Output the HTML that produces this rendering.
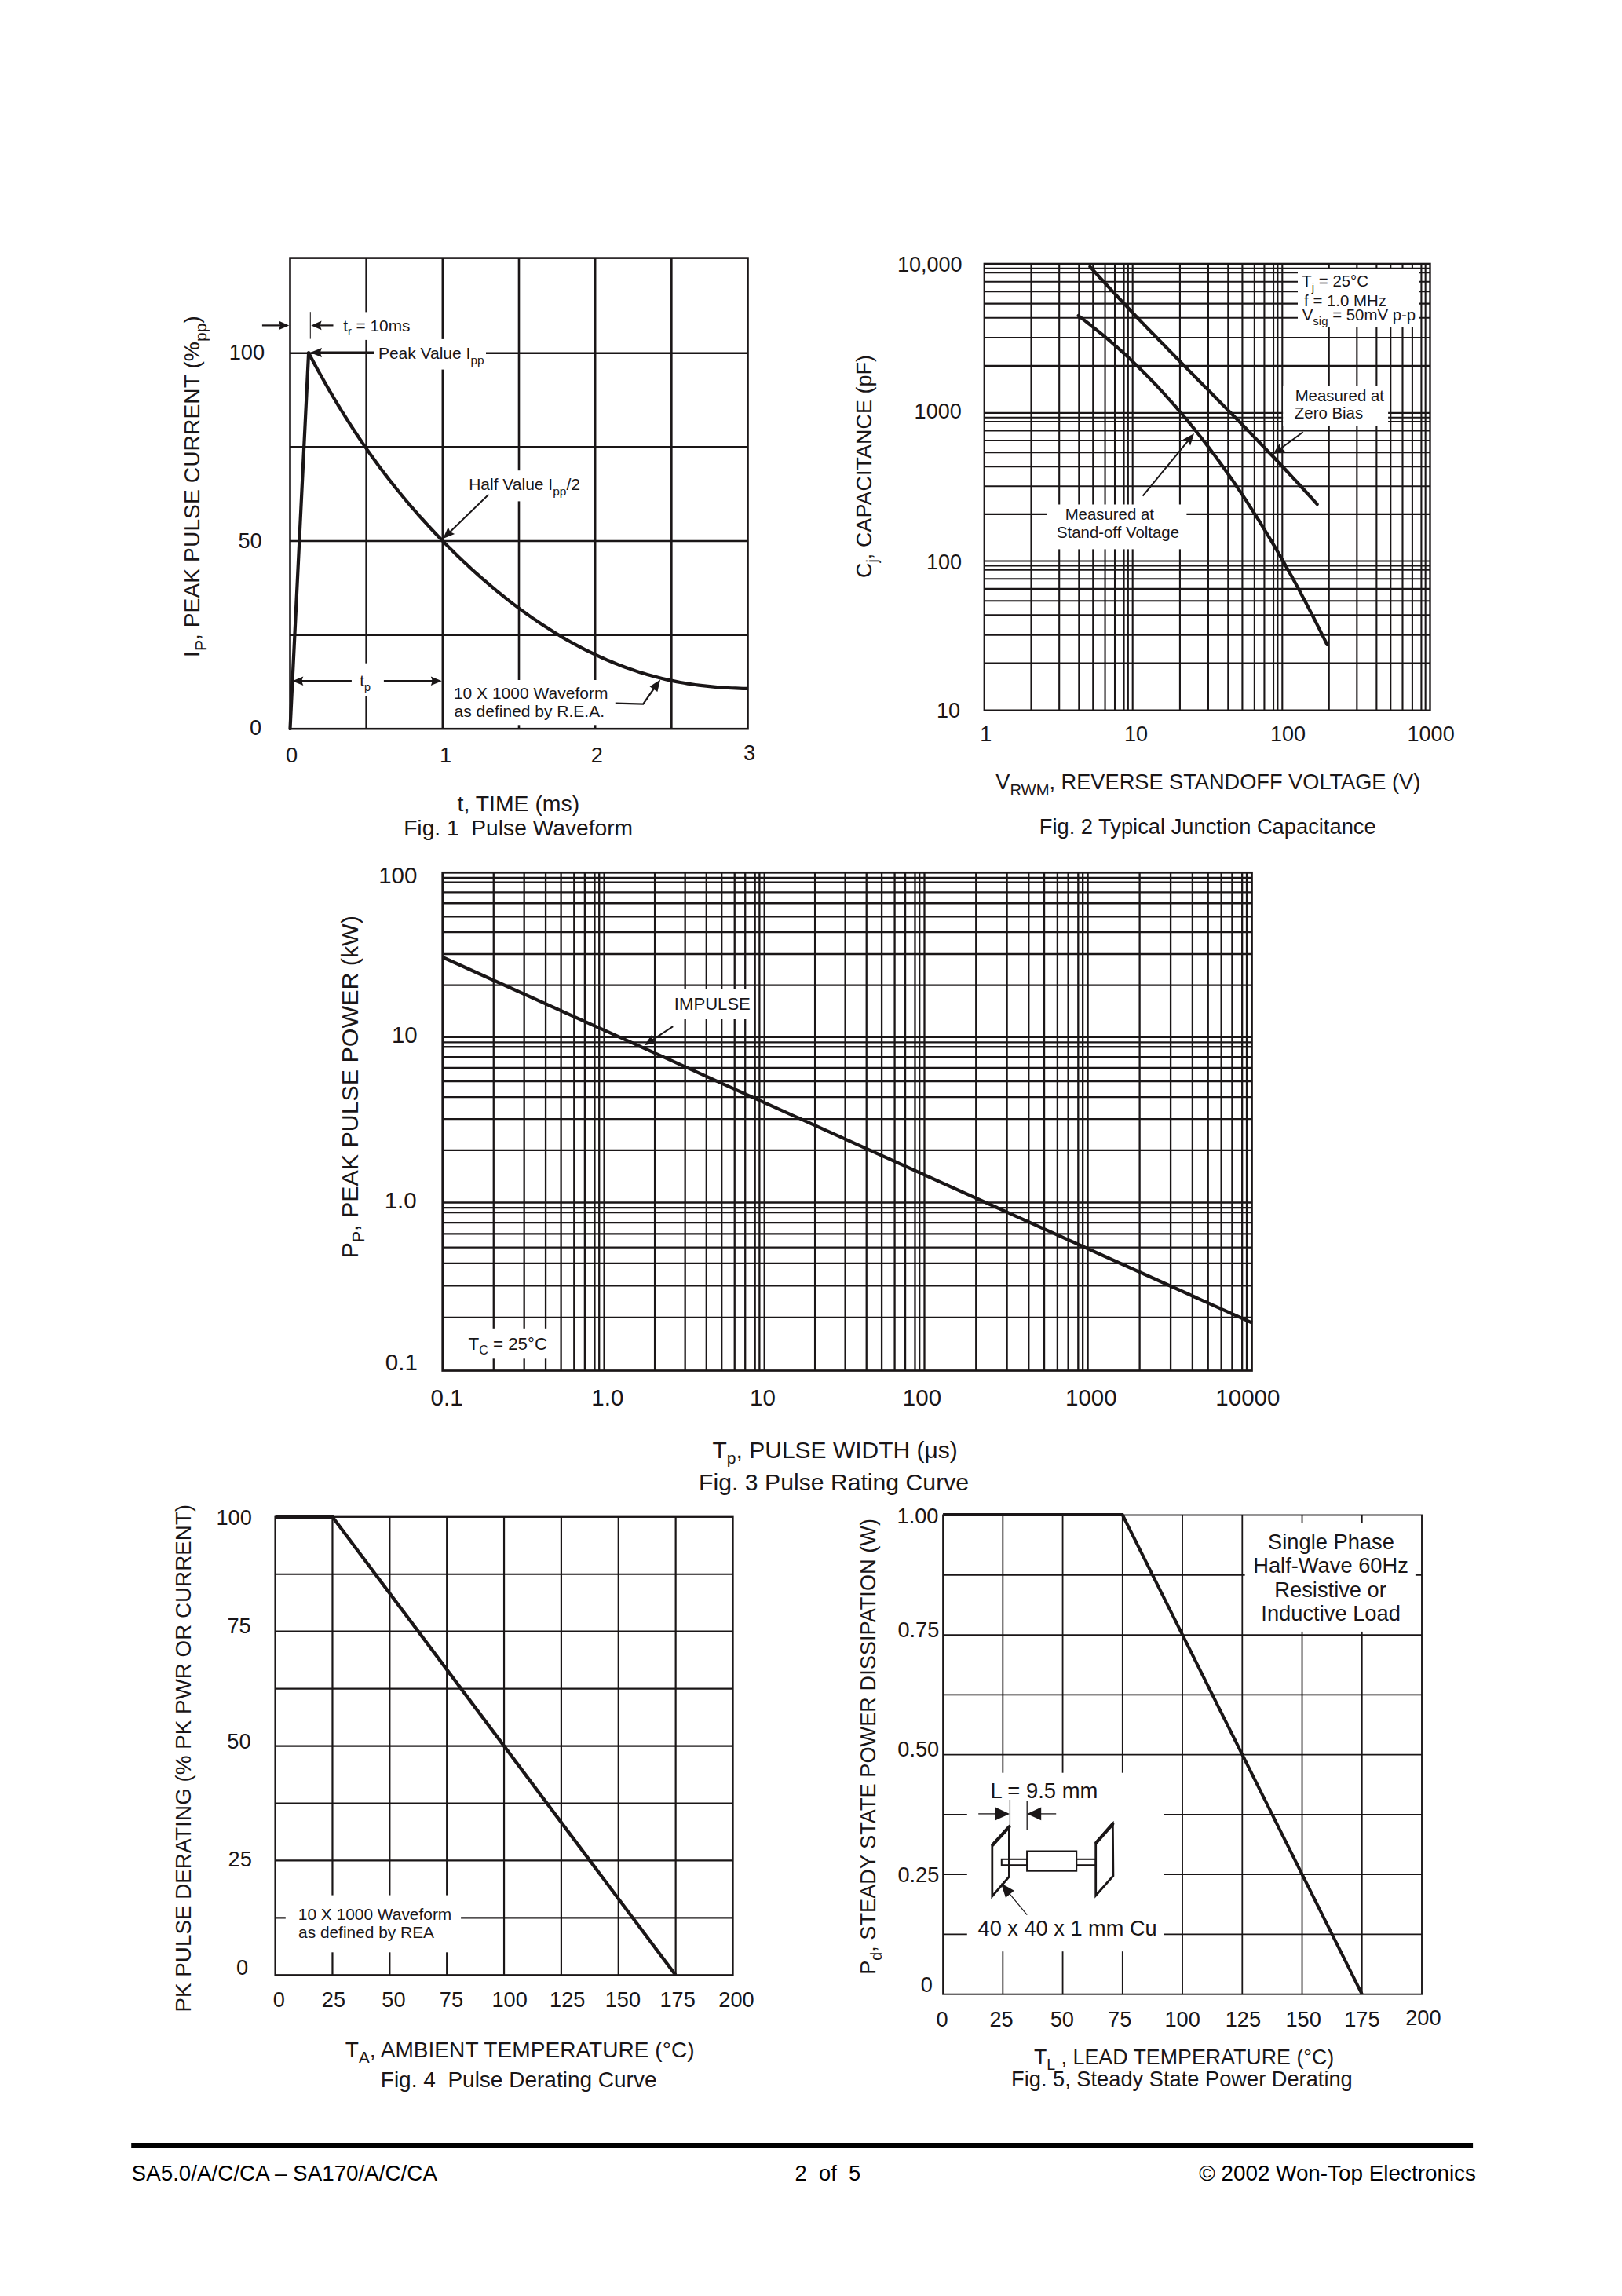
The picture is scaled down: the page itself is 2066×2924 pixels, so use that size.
<!DOCTYPE html>
<html><head><meta charset="utf-8"><style>
html,body{margin:0;padding:0;background:#fff;overflow:hidden;width:2066px;height:2924px;}
svg{display:block;}
text{font-family:"Liberation Sans",sans-serif;fill:#1a1617;stroke:none;white-space:pre;}
.ft text{fill:#000;}
</style></head><body>
<svg width="2066" height="2924" viewBox="0 0 2066 2924" stroke="#1a1617">
<line x1="466.67" y1="328.60" x2="466.67" y2="928.20" stroke-width="2.6" stroke-linecap="butt"/>
<line x1="563.83" y1="328.60" x2="563.83" y2="928.20" stroke-width="2.6" stroke-linecap="butt"/>
<line x1="661.00" y1="328.60" x2="661.00" y2="928.20" stroke-width="2.6" stroke-linecap="butt"/>
<line x1="758.17" y1="328.60" x2="758.17" y2="928.20" stroke-width="2.6" stroke-linecap="butt"/>
<line x1="855.33" y1="328.60" x2="855.33" y2="928.20" stroke-width="2.6" stroke-linecap="butt"/>
<line x1="369.50" y1="449.80" x2="952.50" y2="449.80" stroke-width="2.6" stroke-linecap="butt"/>
<line x1="369.50" y1="569.40" x2="952.50" y2="569.40" stroke-width="2.6" stroke-linecap="butt"/>
<line x1="369.50" y1="689.00" x2="952.50" y2="689.00" stroke-width="2.6" stroke-linecap="butt"/>
<line x1="369.50" y1="808.60" x2="952.50" y2="808.60" stroke-width="2.6" stroke-linecap="butt"/>
<rect x="369.50" y="328.60" width="583.00" height="599.60" fill="none" stroke-width="2.6"/>
<rect x="430.00" y="397.40" width="100.00" height="35.50" fill="#fff" stroke="none"/>
<rect x="476.70" y="431.90" width="142.30" height="38.70" fill="#fff" stroke="none"/>
<rect x="590.00" y="599.20" width="155.00" height="39.20" fill="#fff" stroke="none"/>
<rect x="448.00" y="844.70" width="41.00" height="41.60" fill="#fff" stroke="none"/>
<rect x="575.00" y="866.00" width="205.00" height="57.30" fill="#fff" stroke="none"/>
<line x1="369.50" y1="928.20" x2="393.10" y2="449.40" stroke-width="4.2" stroke-linecap="round"/>
<polyline points="393.10,449.40 397.79,458.23 402.48,466.90 407.16,475.42 411.85,483.79 416.54,492.01 421.23,500.09 425.92,508.02 430.61,515.81 435.29,523.47 439.98,530.98 444.67,538.37 449.36,545.62 454.05,552.74 458.74,559.73 463.42,566.61 468.11,573.36 472.80,579.99 477.49,586.50 482.18,592.90 486.86,599.19 491.55,605.37 496.24,611.44 500.93,617.41 505.62,623.28 510.31,629.05 514.99,634.73 519.68,640.31 524.37,645.81 529.06,651.21 533.75,656.54 538.44,661.77 543.12,666.93 547.81,672.02 552.50,677.03 557.19,681.96 561.88,686.83 566.56,691.63 571.25,696.37 575.94,701.04 580.63,705.64 585.32,710.19 590.01,714.66 594.69,719.07 599.38,723.42 604.07,727.71 608.76,731.92 613.45,736.08 618.14,740.17 622.82,744.20 627.51,748.16 632.20,752.06 636.89,755.90 641.58,759.68 646.26,763.39 650.95,767.04 655.64,770.62 660.33,774.15 665.02,777.61 669.71,781.01 674.39,784.34 679.08,787.62 683.77,790.83 688.46,793.98 693.15,797.07 697.84,800.10 702.52,803.07 707.21,805.98 711.90,808.82 716.59,811.61 721.28,814.33 725.96,816.99 730.65,819.60 735.34,822.14 740.03,824.62 744.72,827.04 749.41,829.40 754.09,831.70 758.78,833.94 763.47,836.12 768.16,838.24 772.85,840.30 777.54,842.30 782.22,844.24 786.91,846.12 791.60,847.94 796.29,849.70 800.98,851.40 805.66,853.04 810.35,854.62 815.04,856.14 819.73,857.60 824.42,859.00 829.11,860.34 833.79,861.62 838.48,862.84 843.17,864.01 847.86,865.11 852.55,866.16 857.24,867.14 861.92,868.08 866.61,868.96 871.30,869.79 875.99,870.56 880.68,871.29 885.36,871.96 890.05,872.59 894.74,873.17 899.43,873.70 904.12,874.19 908.81,874.64 913.49,875.04 918.18,875.41 922.87,875.73 927.56,876.01 932.25,876.26 936.94,876.47 941.62,876.65 946.31,876.79 951.00,876.90" fill="none" stroke-width="4.2" stroke-linejoin="round" stroke-linecap="round"/>
<line x1="333.90" y1="414.40" x2="358.89" y2="414.40" stroke-width="2.2" stroke-linecap="butt"/>
<polygon points="368.20,414.40 354.90,420.20 356.89,414.40 354.90,408.60" fill="#1a1617" stroke="none"/>
<line x1="424.50" y1="414.40" x2="405.61" y2="414.40" stroke-width="2.2" stroke-linecap="butt"/>
<polygon points="396.30,414.40 409.60,408.60 407.61,414.40 409.60,420.20" fill="#1a1617" stroke="none"/>
<line x1="395.30" y1="397.20" x2="395.30" y2="431.60" stroke-width="1.0" stroke-linecap="butt"/>
<text x="437.19" y="421.50"><tspan font-size="20.8" y="421.50">t</tspan><tspan font-size="14.5" y="427.00">r</tspan><tspan font-size="20.8" y="421.50"> = 10ms</tspan></text>
<line x1="476.70" y1="449.00" x2="405.50" y2="449.00" stroke-width="3.0" stroke-linecap="butt"/>
<polygon points="395.00,449.00 410.00,443.00 407.75,449.00 410.00,455.00" fill="#1a1617" stroke="none"/>
<text x="481.88" y="457.30"><tspan font-size="21" y="457.30">Peak Value I</tspan><tspan font-size="15.5" y="464.00">pp</tspan></text>
<text x="597.18" y="624.40"><tspan font-size="21" y="624.40">Half Value I</tspan><tspan font-size="15.5" y="631.10">pp</tspan><tspan font-size="21" y="624.40">/2</tspan></text>
<line x1="622.40" y1="629.70" x2="571.74" y2="678.79" stroke-width="2.0" stroke-linecap="butt"/>
<polygon points="564.20,686.10 570.80,671.35 573.36,677.23 579.15,679.97" fill="#1a1617" stroke="none"/>
<line x1="447.90" y1="867.20" x2="382.10" y2="867.20" stroke-width="2.2" stroke-linecap="butt"/>
<polygon points="372.30,867.20 386.30,861.40 384.20,867.20 386.30,873.00" fill="#1a1617" stroke="none"/>
<line x1="488.90" y1="867.20" x2="553.00" y2="867.20" stroke-width="2.2" stroke-linecap="butt"/>
<polygon points="562.80,867.20 548.80,873.00 550.90,867.20 548.80,861.40" fill="#1a1617" stroke="none"/>
<text x="458.29" y="874.00"><tspan font-size="20.8" y="874.00">t</tspan><tspan font-size="14.5" y="879.50">p</tspan></text>
<text x="577.90" y="890.30" font-size="21" text-anchor="start">10 X 1000 Waveform</text>
<text x="578.62" y="913.10" font-size="21" text-anchor="start">as defined by R.E.A.</text>
<polyline points="783.80,895.60 819.20,896.60 832.50,877.50" fill="none" stroke-width="2.2" stroke-linejoin="miter" stroke-linecap="butt"/>
<polygon points="841.10,865.40 837.39,881.12 832.48,877.68 827.57,874.23" fill="#1a1617" stroke="none"/>
<text x="291.69" y="457.70" font-size="27.2" text-anchor="start">100</text>
<text x="303.41" y="697.50" font-size="27.2" text-anchor="start">50</text>
<text x="317.94" y="935.50" font-size="27.2" text-anchor="start">0</text>
<text x="364.04" y="970.60" font-size="27.2" text-anchor="start">0</text>
<text x="560.07" y="970.60" font-size="27.2" text-anchor="start">1</text>
<text x="752.74" y="970.60" font-size="27.2" text-anchor="start">2</text>
<text x="946.92" y="967.50" font-size="27.2" text-anchor="start">3</text>
<text x="582.54" y="1033.40" font-size="28.4" text-anchor="start">t, TIME (ms)</text>
<text x="514.17" y="1064.20" font-size="28.2" text-anchor="start">Fig. 1  Pulse Waveform</text>
<text transform="translate(253.80,836.90) rotate(-90)" x="0" y="0"><tspan font-size="28.3" y="0.00">I</tspan><tspan font-size="21" y="8.90">P</tspan><tspan font-size="28.3" y="0.00">, PEAK PULSE CURRENT (%</tspan><tspan font-size="21" y="8.90">pp</tspan><tspan font-size="28.3" y="0.00">)</tspan></text>
<line x1="1313.49" y1="335.90" x2="1313.49" y2="904.70" stroke-width="2.1" stroke-linecap="butt"/>
<line x1="1253.80" y1="844.60" x2="1821.50" y2="844.60" stroke-width="2.1" stroke-linecap="butt"/>
<line x1="1349.19" y1="335.90" x2="1349.19" y2="904.70" stroke-width="2.1" stroke-linecap="butt"/>
<line x1="1253.80" y1="808.65" x2="1821.50" y2="808.65" stroke-width="2.1" stroke-linecap="butt"/>
<line x1="1374.32" y1="335.90" x2="1374.32" y2="904.70" stroke-width="2.1" stroke-linecap="butt"/>
<line x1="1253.80" y1="783.35" x2="1821.50" y2="783.35" stroke-width="2.1" stroke-linecap="butt"/>
<line x1="1392.26" y1="335.90" x2="1392.26" y2="904.70" stroke-width="2.1" stroke-linecap="butt"/>
<line x1="1253.80" y1="765.28" x2="1821.50" y2="765.28" stroke-width="2.1" stroke-linecap="butt"/>
<line x1="1407.56" y1="335.90" x2="1407.56" y2="904.70" stroke-width="2.1" stroke-linecap="butt"/>
<line x1="1253.80" y1="749.88" x2="1821.50" y2="749.88" stroke-width="2.1" stroke-linecap="butt"/>
<line x1="1420.03" y1="335.90" x2="1420.03" y2="904.70" stroke-width="2.1" stroke-linecap="butt"/>
<line x1="1253.80" y1="737.32" x2="1821.50" y2="737.32" stroke-width="2.1" stroke-linecap="butt"/>
<line x1="1431.55" y1="335.90" x2="1431.55" y2="904.70" stroke-width="2.1" stroke-linecap="butt"/>
<line x1="1253.80" y1="725.72" x2="1821.50" y2="725.72" stroke-width="2.1" stroke-linecap="butt"/>
<line x1="1436.84" y1="335.90" x2="1436.84" y2="904.70" stroke-width="2.1" stroke-linecap="butt"/>
<line x1="1253.80" y1="720.40" x2="1821.50" y2="720.40" stroke-width="2.1" stroke-linecap="butt"/>
<line x1="1442.70" y1="335.90" x2="1442.70" y2="904.70" stroke-width="2.1" stroke-linecap="butt"/>
<line x1="1253.80" y1="714.50" x2="1821.50" y2="714.50" stroke-width="2.1" stroke-linecap="butt"/>
<line x1="1502.93" y1="335.90" x2="1502.93" y2="904.70" stroke-width="2.1" stroke-linecap="butt"/>
<line x1="1253.80" y1="654.90" x2="1821.50" y2="654.90" stroke-width="2.1" stroke-linecap="butt"/>
<line x1="1538.95" y1="335.90" x2="1538.95" y2="904.70" stroke-width="2.1" stroke-linecap="butt"/>
<line x1="1253.80" y1="619.26" x2="1821.50" y2="619.26" stroke-width="2.1" stroke-linecap="butt"/>
<line x1="1564.30" y1="335.90" x2="1564.30" y2="904.70" stroke-width="2.1" stroke-linecap="butt"/>
<line x1="1253.80" y1="594.17" x2="1821.50" y2="594.17" stroke-width="2.1" stroke-linecap="butt"/>
<line x1="1582.41" y1="335.90" x2="1582.41" y2="904.70" stroke-width="2.1" stroke-linecap="butt"/>
<line x1="1253.80" y1="576.26" x2="1821.50" y2="576.26" stroke-width="2.1" stroke-linecap="butt"/>
<line x1="1597.85" y1="335.90" x2="1597.85" y2="904.70" stroke-width="2.1" stroke-linecap="butt"/>
<line x1="1253.80" y1="560.98" x2="1821.50" y2="560.98" stroke-width="2.1" stroke-linecap="butt"/>
<line x1="1610.43" y1="335.90" x2="1610.43" y2="904.70" stroke-width="2.1" stroke-linecap="butt"/>
<line x1="1253.80" y1="548.53" x2="1821.50" y2="548.53" stroke-width="2.1" stroke-linecap="butt"/>
<line x1="1622.05" y1="335.90" x2="1622.05" y2="904.70" stroke-width="2.1" stroke-linecap="butt"/>
<line x1="1253.80" y1="537.03" x2="1821.50" y2="537.03" stroke-width="2.1" stroke-linecap="butt"/>
<line x1="1627.39" y1="335.90" x2="1627.39" y2="904.70" stroke-width="2.1" stroke-linecap="butt"/>
<line x1="1253.80" y1="531.75" x2="1821.50" y2="531.75" stroke-width="2.1" stroke-linecap="butt"/>
<line x1="1633.30" y1="335.90" x2="1633.30" y2="904.70" stroke-width="2.1" stroke-linecap="butt"/>
<line x1="1253.80" y1="525.90" x2="1821.50" y2="525.90" stroke-width="2.1" stroke-linecap="butt"/>
<line x1="1692.77" y1="335.90" x2="1692.77" y2="904.70" stroke-width="2.1" stroke-linecap="butt"/>
<line x1="1253.80" y1="465.86" x2="1821.50" y2="465.86" stroke-width="2.1" stroke-linecap="butt"/>
<line x1="1728.34" y1="335.90" x2="1728.34" y2="904.70" stroke-width="2.1" stroke-linecap="butt"/>
<line x1="1253.80" y1="429.95" x2="1821.50" y2="429.95" stroke-width="2.1" stroke-linecap="butt"/>
<line x1="1753.37" y1="335.90" x2="1753.37" y2="904.70" stroke-width="2.1" stroke-linecap="butt"/>
<line x1="1253.80" y1="404.68" x2="1821.50" y2="404.68" stroke-width="2.1" stroke-linecap="butt"/>
<line x1="1771.25" y1="335.90" x2="1771.25" y2="904.70" stroke-width="2.1" stroke-linecap="butt"/>
<line x1="1253.80" y1="386.63" x2="1821.50" y2="386.63" stroke-width="2.1" stroke-linecap="butt"/>
<line x1="1786.49" y1="335.90" x2="1786.49" y2="904.70" stroke-width="2.1" stroke-linecap="butt"/>
<line x1="1253.80" y1="371.24" x2="1821.50" y2="371.24" stroke-width="2.1" stroke-linecap="butt"/>
<line x1="1798.92" y1="335.90" x2="1798.92" y2="904.70" stroke-width="2.1" stroke-linecap="butt"/>
<line x1="1253.80" y1="358.70" x2="1821.50" y2="358.70" stroke-width="2.1" stroke-linecap="butt"/>
<line x1="1810.40" y1="335.90" x2="1810.40" y2="904.70" stroke-width="2.1" stroke-linecap="butt"/>
<line x1="1253.80" y1="347.11" x2="1821.50" y2="347.11" stroke-width="2.1" stroke-linecap="butt"/>
<line x1="1815.67" y1="335.90" x2="1815.67" y2="904.70" stroke-width="2.1" stroke-linecap="butt"/>
<line x1="1253.80" y1="341.79" x2="1821.50" y2="341.79" stroke-width="2.1" stroke-linecap="butt"/>
<rect x="1253.80" y="335.90" width="567.70" height="568.80" fill="none" stroke-width="2.4"/>
<rect x="1653.00" y="342.50" width="154.00" height="74.50" fill="#fff" stroke="none"/>
<rect x="1634.20" y="492.00" width="133.90" height="51.00" fill="#fff" stroke="none"/>
<rect x="1333.60" y="642.50" width="177.80" height="56.90" fill="#fff" stroke="none"/>
<polyline points="1388.40,339.60 1392.06,343.66 1395.72,347.71 1399.39,351.73 1403.05,355.74 1406.71,359.74 1410.37,363.71 1414.03,367.68 1417.70,371.62 1421.36,375.55 1425.02,379.47 1428.68,383.37 1432.34,387.26 1436.01,391.14 1439.67,395.00 1443.33,398.86 1446.99,402.70 1450.65,406.53 1454.32,410.35 1457.98,414.15 1461.64,417.95 1465.30,421.74 1468.96,425.53 1472.63,429.30 1476.29,433.07 1479.95,436.82 1483.61,440.58 1487.27,444.32 1490.94,448.06 1494.60,451.80 1498.26,455.52 1501.92,459.25 1505.58,462.97 1509.25,466.69 1512.91,470.40 1516.57,474.11 1520.23,477.82 1523.89,481.53 1527.56,485.24 1531.22,488.95 1534.88,492.65 1538.54,496.36 1542.21,500.07 1545.87,503.78 1549.53,507.49 1553.19,511.20 1556.85,514.92 1560.52,518.63 1564.18,522.36 1567.84,526.08 1571.50,529.81 1575.16,533.55 1578.83,537.29 1582.49,541.04 1586.15,544.79 1589.81,548.56 1593.47,552.32 1597.14,556.10 1600.80,559.88 1604.46,563.68 1608.12,567.48 1611.78,571.29 1615.45,575.12 1619.11,578.95 1622.77,582.80 1626.43,586.65 1630.09,590.52 1633.76,594.40 1637.42,598.30 1641.08,602.20 1644.74,606.13 1648.40,610.06 1652.07,614.02 1655.73,617.98 1659.39,621.97 1663.05,625.96 1666.71,629.98 1670.38,634.01 1674.04,638.07 1677.70,642.14" fill="none" stroke-width="4.2" stroke-linejoin="round" stroke-linecap="round"/>
<polyline points="1373.60,402.07 1377.61,405.08 1381.62,408.12 1385.63,411.22 1389.64,414.36 1393.64,417.54 1397.65,420.77 1401.66,424.05 1405.67,427.38 1409.68,430.75 1413.69,434.18 1417.70,437.65 1421.71,441.17 1425.72,444.75 1429.72,448.37 1433.73,452.05 1437.74,455.78 1441.75,459.56 1445.76,463.40 1449.77,467.28 1453.78,471.23 1457.79,475.23 1461.79,479.28 1465.80,483.40 1469.81,487.56 1473.82,491.79 1477.83,496.07 1481.84,500.42 1485.85,504.82 1489.86,509.28 1493.87,513.80 1497.87,518.38 1501.88,523.02 1505.89,527.73 1509.90,532.50 1513.91,537.33 1517.92,542.22 1521.93,547.18 1525.94,552.20 1529.95,557.29 1533.95,562.45 1537.96,567.67 1541.97,572.96 1545.98,578.31 1549.99,583.73 1554.00,589.23 1558.01,594.79 1562.02,600.42 1566.03,606.12 1570.03,611.89 1574.04,617.74 1578.05,623.65 1582.06,629.64 1586.07,635.70 1590.08,641.84 1594.09,648.05 1598.10,654.34 1602.11,660.70 1606.11,667.13 1610.12,673.65 1614.13,680.24 1618.14,686.90 1622.15,693.65 1626.16,700.47 1630.17,707.38 1634.18,714.36 1638.18,721.43 1642.19,728.57 1646.20,735.80 1650.21,743.11 1654.22,750.50 1658.23,757.98 1662.24,765.54 1666.25,773.18 1670.26,780.91 1674.26,788.73 1678.27,796.63 1682.28,804.61 1686.29,812.69 1690.30,820.85" fill="none" stroke-width="4.2" stroke-linejoin="round" stroke-linecap="round"/>
<line x1="1455.60" y1="631.70" x2="1514.34" y2="560.12" stroke-width="2.0" stroke-linecap="butt"/>
<polygon points="1521.00,552.00 1516.12,567.40 1512.91,561.86 1506.85,559.79" fill="#1a1617" stroke="none"/>
<line x1="1659.70" y1="550.20" x2="1629.75" y2="572.27" stroke-width="2.0" stroke-linecap="butt"/>
<polygon points="1621.30,578.50 1629.82,564.77 1631.56,570.94 1636.93,574.43" fill="#1a1617" stroke="none"/>
<text x="1658.35" y="364.70"><tspan font-size="20.4" y="364.70">T</tspan><tspan font-size="15" y="370.70">j</tspan><tspan font-size="20.4" y="364.70"> = 25°C</tspan></text>
<text x="1661.11" y="389.60" font-size="20.4" text-anchor="start">f = 1.0 MHz</text>
<text x="1658.70" y="408.30"><tspan font-size="20.4" y="408.30">V</tspan><tspan font-size="15" y="414.30">sig</tspan><tspan font-size="20.4" y="408.30"> = 50mV p-p</tspan></text>
<text x="1649.63" y="510.60" font-size="20.4" text-anchor="start">Measured at</text>
<text x="1648.85" y="533.30" font-size="20.4" text-anchor="start">Zero Bias</text>
<text x="1356.63" y="662.10" font-size="20.4" text-anchor="start">Measured at</text>
<text x="1345.96" y="684.80" font-size="20.4" text-anchor="start">Stand-off Voltage</text>
<text x="1142.89" y="346.40" font-size="27" text-anchor="start">10,000</text>
<text x="1164.61" y="532.60" font-size="27" text-anchor="start">1000</text>
<text x="1179.92" y="724.90" font-size="27" text-anchor="start">100</text>
<text x="1193.03" y="913.60" font-size="27" text-anchor="start">10</text>
<text x="1248.13" y="944.00" font-size="27" text-anchor="start">1</text>
<text x="1431.89" y="944.00" font-size="27" text-anchor="start">10</text>
<text x="1617.98" y="944.00" font-size="27" text-anchor="start">100</text>
<text x="1792.58" y="944.00" font-size="27" text-anchor="start">1000</text>
<text x="1268.26" y="1005.10"><tspan font-size="27.2" y="1005.10">V</tspan><tspan font-size="20.2" y="1012.90">RWM</tspan><tspan font-size="27.2" y="1005.10">, REVERSE STANDOFF VOLTAGE (V)</tspan></text>
<text x="1323.76" y="1061.50" font-size="27.3" text-anchor="start">Fig. 2 Typical Junction Capacitance</text>
<text transform="translate(1110.20,736.08) rotate(-90)" x="0" y="0"><tspan font-size="27" y="0.00">C</tspan><tspan font-size="20" y="8.00">j</tspan><tspan font-size="27" y="0.00">, CAPACITANCE (pF)</tspan></text>
<line x1="628.76" y1="1111.30" x2="628.76" y2="1745.50" stroke-width="2.3" stroke-linecap="butt"/>
<line x1="667.68" y1="1111.30" x2="667.68" y2="1745.50" stroke-width="2.3" stroke-linecap="butt"/>
<line x1="695.06" y1="1111.30" x2="695.06" y2="1745.50" stroke-width="2.3" stroke-linecap="butt"/>
<line x1="714.62" y1="1111.30" x2="714.62" y2="1745.50" stroke-width="2.3" stroke-linecap="butt"/>
<line x1="731.30" y1="1111.30" x2="731.30" y2="1745.50" stroke-width="2.3" stroke-linecap="butt"/>
<line x1="744.89" y1="1111.30" x2="744.89" y2="1745.50" stroke-width="2.3" stroke-linecap="butt"/>
<line x1="757.45" y1="1111.30" x2="757.45" y2="1745.50" stroke-width="2.3" stroke-linecap="butt"/>
<line x1="763.22" y1="1111.30" x2="763.22" y2="1745.50" stroke-width="2.3" stroke-linecap="butt"/>
<line x1="769.60" y1="1111.30" x2="769.60" y2="1745.50" stroke-width="2.3" stroke-linecap="butt"/>
<line x1="834.10" y1="1111.30" x2="834.10" y2="1745.50" stroke-width="2.3" stroke-linecap="butt"/>
<line x1="872.67" y1="1111.30" x2="872.67" y2="1745.50" stroke-width="2.3" stroke-linecap="butt"/>
<line x1="899.82" y1="1111.30" x2="899.82" y2="1745.50" stroke-width="2.3" stroke-linecap="butt"/>
<line x1="919.21" y1="1111.30" x2="919.21" y2="1745.50" stroke-width="2.3" stroke-linecap="butt"/>
<line x1="935.74" y1="1111.30" x2="935.74" y2="1745.50" stroke-width="2.3" stroke-linecap="butt"/>
<line x1="949.21" y1="1111.30" x2="949.21" y2="1745.50" stroke-width="2.3" stroke-linecap="butt"/>
<line x1="961.66" y1="1111.30" x2="961.66" y2="1745.50" stroke-width="2.3" stroke-linecap="butt"/>
<line x1="967.37" y1="1111.30" x2="967.37" y2="1745.50" stroke-width="2.3" stroke-linecap="butt"/>
<line x1="973.70" y1="1111.30" x2="973.70" y2="1745.50" stroke-width="2.3" stroke-linecap="butt"/>
<line x1="1038.10" y1="1111.30" x2="1038.10" y2="1745.50" stroke-width="2.3" stroke-linecap="butt"/>
<line x1="1076.62" y1="1111.30" x2="1076.62" y2="1745.50" stroke-width="2.3" stroke-linecap="butt"/>
<line x1="1103.72" y1="1111.30" x2="1103.72" y2="1745.50" stroke-width="2.3" stroke-linecap="butt"/>
<line x1="1123.09" y1="1111.30" x2="1123.09" y2="1745.50" stroke-width="2.3" stroke-linecap="butt"/>
<line x1="1139.59" y1="1111.30" x2="1139.59" y2="1745.50" stroke-width="2.3" stroke-linecap="butt"/>
<line x1="1153.04" y1="1111.30" x2="1153.04" y2="1745.50" stroke-width="2.3" stroke-linecap="butt"/>
<line x1="1165.48" y1="1111.30" x2="1165.48" y2="1745.50" stroke-width="2.3" stroke-linecap="butt"/>
<line x1="1171.18" y1="1111.30" x2="1171.18" y2="1745.50" stroke-width="2.3" stroke-linecap="butt"/>
<line x1="1177.50" y1="1111.30" x2="1177.50" y2="1745.50" stroke-width="2.3" stroke-linecap="butt"/>
<line x1="1243.26" y1="1111.30" x2="1243.26" y2="1745.50" stroke-width="2.3" stroke-linecap="butt"/>
<line x1="1282.59" y1="1111.30" x2="1282.59" y2="1745.50" stroke-width="2.3" stroke-linecap="butt"/>
<line x1="1310.27" y1="1111.30" x2="1310.27" y2="1745.50" stroke-width="2.3" stroke-linecap="butt"/>
<line x1="1330.04" y1="1111.30" x2="1330.04" y2="1745.50" stroke-width="2.3" stroke-linecap="butt"/>
<line x1="1346.89" y1="1111.30" x2="1346.89" y2="1745.50" stroke-width="2.3" stroke-linecap="butt"/>
<line x1="1360.63" y1="1111.30" x2="1360.63" y2="1745.50" stroke-width="2.3" stroke-linecap="butt"/>
<line x1="1373.32" y1="1111.30" x2="1373.32" y2="1745.50" stroke-width="2.3" stroke-linecap="butt"/>
<line x1="1379.15" y1="1111.30" x2="1379.15" y2="1745.50" stroke-width="2.3" stroke-linecap="butt"/>
<line x1="1385.60" y1="1111.30" x2="1385.60" y2="1745.50" stroke-width="2.3" stroke-linecap="butt"/>
<line x1="1451.61" y1="1111.30" x2="1451.61" y2="1745.50" stroke-width="2.3" stroke-linecap="butt"/>
<line x1="1491.09" y1="1111.30" x2="1491.09" y2="1745.50" stroke-width="2.3" stroke-linecap="butt"/>
<line x1="1518.88" y1="1111.30" x2="1518.88" y2="1745.50" stroke-width="2.3" stroke-linecap="butt"/>
<line x1="1538.72" y1="1111.30" x2="1538.72" y2="1745.50" stroke-width="2.3" stroke-linecap="butt"/>
<line x1="1555.64" y1="1111.30" x2="1555.64" y2="1745.50" stroke-width="2.3" stroke-linecap="butt"/>
<line x1="1569.43" y1="1111.30" x2="1569.43" y2="1745.50" stroke-width="2.3" stroke-linecap="butt"/>
<line x1="1582.17" y1="1111.30" x2="1582.17" y2="1745.50" stroke-width="2.3" stroke-linecap="butt"/>
<line x1="1588.02" y1="1111.30" x2="1588.02" y2="1745.50" stroke-width="2.3" stroke-linecap="butt"/>
<line x1="563.70" y1="1677.88" x2="1594.50" y2="1677.88" stroke-width="2.3" stroke-linecap="butt"/>
<line x1="563.70" y1="1637.43" x2="1594.50" y2="1637.43" stroke-width="2.3" stroke-linecap="butt"/>
<line x1="563.70" y1="1608.97" x2="1594.50" y2="1608.97" stroke-width="2.3" stroke-linecap="butt"/>
<line x1="563.70" y1="1588.64" x2="1594.50" y2="1588.64" stroke-width="2.3" stroke-linecap="butt"/>
<line x1="563.70" y1="1571.30" x2="1594.50" y2="1571.30" stroke-width="2.3" stroke-linecap="butt"/>
<line x1="563.70" y1="1557.18" x2="1594.50" y2="1557.18" stroke-width="2.3" stroke-linecap="butt"/>
<line x1="563.70" y1="1544.13" x2="1594.50" y2="1544.13" stroke-width="2.3" stroke-linecap="butt"/>
<line x1="563.70" y1="1538.13" x2="1594.50" y2="1538.13" stroke-width="2.3" stroke-linecap="butt"/>
<line x1="563.70" y1="1531.50" x2="1594.50" y2="1531.50" stroke-width="2.3" stroke-linecap="butt"/>
<line x1="563.70" y1="1464.92" x2="1594.50" y2="1464.92" stroke-width="2.3" stroke-linecap="butt"/>
<line x1="563.70" y1="1425.10" x2="1594.50" y2="1425.10" stroke-width="2.3" stroke-linecap="butt"/>
<line x1="563.70" y1="1397.07" x2="1594.50" y2="1397.07" stroke-width="2.3" stroke-linecap="butt"/>
<line x1="563.70" y1="1377.06" x2="1594.50" y2="1377.06" stroke-width="2.3" stroke-linecap="butt"/>
<line x1="563.70" y1="1359.99" x2="1594.50" y2="1359.99" stroke-width="2.3" stroke-linecap="butt"/>
<line x1="563.70" y1="1346.08" x2="1594.50" y2="1346.08" stroke-width="2.3" stroke-linecap="butt"/>
<line x1="563.70" y1="1333.23" x2="1594.50" y2="1333.23" stroke-width="2.3" stroke-linecap="butt"/>
<line x1="563.70" y1="1327.33" x2="1594.50" y2="1327.33" stroke-width="2.3" stroke-linecap="butt"/>
<line x1="563.70" y1="1320.80" x2="1594.50" y2="1320.80" stroke-width="2.3" stroke-linecap="butt"/>
<line x1="563.70" y1="1254.60" x2="1594.50" y2="1254.60" stroke-width="2.3" stroke-linecap="butt"/>
<line x1="563.70" y1="1215.00" x2="1594.50" y2="1215.00" stroke-width="2.3" stroke-linecap="butt"/>
<line x1="563.70" y1="1187.14" x2="1594.50" y2="1187.14" stroke-width="2.3" stroke-linecap="butt"/>
<line x1="563.70" y1="1167.24" x2="1594.50" y2="1167.24" stroke-width="2.3" stroke-linecap="butt"/>
<line x1="563.70" y1="1150.27" x2="1594.50" y2="1150.27" stroke-width="2.3" stroke-linecap="butt"/>
<line x1="563.70" y1="1136.44" x2="1594.50" y2="1136.44" stroke-width="2.3" stroke-linecap="butt"/>
<line x1="563.70" y1="1123.66" x2="1594.50" y2="1123.66" stroke-width="2.3" stroke-linecap="butt"/>
<line x1="563.70" y1="1117.79" x2="1594.50" y2="1117.79" stroke-width="2.3" stroke-linecap="butt"/>
<rect x="563.70" y="1111.30" width="1030.80" height="634.20" fill="none" stroke-width="2.7"/>
<rect x="845.00" y="1259.50" width="115.80" height="38.50" fill="#fff" stroke="none"/>
<rect x="575.00" y="1691.80" width="137.00" height="38.50" fill="#fff" stroke="none"/>
<line x1="564.80" y1="1219.50" x2="1594.80" y2="1684.70" stroke-width="4.2" stroke-linecap="butt"/>
<line x1="857.20" y1="1307.20" x2="829.57" y2="1325.42" stroke-width="2.0" stroke-linecap="butt"/>
<polygon points="820.80,1331.20 830.02,1317.93 831.44,1324.18 836.63,1327.95" fill="#1a1617" stroke="none"/>
<text x="858.87" y="1285.90" font-size="22.1" text-anchor="start">IMPULSE</text>
<text x="596.50" y="1718.90"><tspan font-size="22.5" y="1718.90">T</tspan><tspan font-size="16" y="1725.40">C</tspan><tspan font-size="22.3" y="1718.90"> = 25°C</tspan></text>
<text x="482.14" y="1124.80" font-size="29.5" text-anchor="start">100</text>
<text x="498.95" y="1327.90" font-size="29.5" text-anchor="start">10</text>
<text x="489.65" y="1539.20" font-size="29.5" text-anchor="start">1.0</text>
<text x="490.84" y="1744.80" font-size="29.5" text-anchor="start">0.1</text>
<text x="548.54" y="1790.00" font-size="29.5" text-anchor="start">0.1</text>
<text x="753.35" y="1790.00" font-size="29.5" text-anchor="start">1.0</text>
<text x="955.05" y="1790.00" font-size="29.5" text-anchor="start">10</text>
<text x="1149.85" y="1790.00" font-size="29.5" text-anchor="start">100</text>
<text x="1357.05" y="1790.00" font-size="29.5" text-anchor="start">1000</text>
<text x="1548.33" y="1790.00" font-size="29.5" text-anchor="start">10000</text>
<text x="907.54" y="1857.40"><tspan font-size="30" y="1857.40">T</tspan><tspan font-size="21" y="1864.40">p</tspan><tspan font-size="30" y="1857.40">, PULSE WIDTH (μs)</tspan></text>
<text x="890.12" y="1898.10" font-size="30.2" text-anchor="start">Fig. 3 Pulse Rating Curve</text>
<text transform="translate(455.50,1602.59) rotate(-90)" x="0" y="0"><tspan font-size="30.4" y="0.00">P</tspan><tspan font-size="21.5" y="8.50">P</tspan><tspan font-size="30.4" y="0.00">, PEAK PULSE POWER (kW)</tspan></text>
<line x1="423.46" y1="1931.80" x2="423.46" y2="2515.30" stroke-width="2.2" stroke-linecap="butt"/>
<line x1="350.60" y1="2004.74" x2="933.50" y2="2004.74" stroke-width="2.2" stroke-linecap="butt"/>
<line x1="496.33" y1="1931.80" x2="496.33" y2="2515.30" stroke-width="2.2" stroke-linecap="butt"/>
<line x1="350.60" y1="2077.68" x2="933.50" y2="2077.68" stroke-width="2.2" stroke-linecap="butt"/>
<line x1="569.19" y1="1931.80" x2="569.19" y2="2515.30" stroke-width="2.2" stroke-linecap="butt"/>
<line x1="350.60" y1="2150.61" x2="933.50" y2="2150.61" stroke-width="2.2" stroke-linecap="butt"/>
<line x1="642.05" y1="1931.80" x2="642.05" y2="2515.30" stroke-width="2.2" stroke-linecap="butt"/>
<line x1="350.60" y1="2223.55" x2="933.50" y2="2223.55" stroke-width="2.2" stroke-linecap="butt"/>
<line x1="714.91" y1="1931.80" x2="714.91" y2="2515.30" stroke-width="2.2" stroke-linecap="butt"/>
<line x1="350.60" y1="2296.49" x2="933.50" y2="2296.49" stroke-width="2.2" stroke-linecap="butt"/>
<line x1="787.77" y1="1931.80" x2="787.77" y2="2515.30" stroke-width="2.2" stroke-linecap="butt"/>
<line x1="350.60" y1="2369.43" x2="933.50" y2="2369.43" stroke-width="2.2" stroke-linecap="butt"/>
<line x1="860.64" y1="1931.80" x2="860.64" y2="2515.30" stroke-width="2.2" stroke-linecap="butt"/>
<line x1="350.60" y1="2442.36" x2="933.50" y2="2442.36" stroke-width="2.2" stroke-linecap="butt"/>
<rect x="350.60" y="1931.80" width="582.90" height="583.50" fill="none" stroke-width="2.3"/>
<rect x="363.80" y="2413.60" width="223.30" height="72.70" fill="#fff" stroke="none"/>
<polyline points="350.60,1931.80 423.50,1931.80 860.50,2515.30" fill="none" stroke-width="4.3" stroke-linejoin="miter" stroke-linecap="butt"/>
<text x="379.81" y="2444.70" font-size="20.9" text-anchor="start">10 X 1000 Waveform</text>
<text x="380.02" y="2468.20" font-size="20.9" text-anchor="start">as defined by REA</text>
<text x="275.49" y="1941.90" font-size="27.2" text-anchor="start">100</text>
<text x="289.40" y="2079.90" font-size="27.2" text-anchor="start">75</text>
<text x="289.31" y="2227.00" font-size="27.2" text-anchor="start">50</text>
<text x="290.60" y="2376.80" font-size="27.2" text-anchor="start">25</text>
<text x="301.04" y="2514.50" font-size="27.2" text-anchor="start">0</text>
<text x="347.74" y="2556.00" font-size="27.2" text-anchor="start">0</text>
<text x="409.77" y="2556.00" font-size="27.2" text-anchor="start">25</text>
<text x="486.36" y="2556.00" font-size="27.2" text-anchor="start">50</text>
<text x="559.85" y="2556.00" font-size="27.2" text-anchor="start">75</text>
<text x="626.41" y="2556.00" font-size="27.2" text-anchor="start">100</text>
<text x="700.05" y="2556.00" font-size="27.2" text-anchor="start">125</text>
<text x="770.71" y="2556.00" font-size="27.2" text-anchor="start">150</text>
<text x="840.45" y="2556.00" font-size="27.2" text-anchor="start">175</text>
<text x="915.37" y="2556.00" font-size="27.2" text-anchor="start">200</text>
<text x="439.78" y="2619.50"><tspan font-size="28.1" y="2619.50">T</tspan><tspan font-size="20.5" y="2627.00">A</tspan><tspan font-size="28.1" y="2619.50">, AMBIENT TEMPERATURE (°C)</tspan></text>
<text x="484.80" y="2658.00" font-size="28" text-anchor="start">Fig. 4  Pulse Derating Curve</text>
<text transform="translate(243.00,2562.48) rotate(-90)" x="0" y="0"><tspan font-size="27.8" y="0.00">PK PULSE DERATING (% PK PWR OR CURRENT)</tspan></text>
<line x1="1277.34" y1="1929.50" x2="1277.34" y2="2539.70" stroke-width="1.8" stroke-linecap="butt"/>
<line x1="1201.10" y1="2005.78" x2="1811.00" y2="2005.78" stroke-width="1.8" stroke-linecap="butt"/>
<line x1="1353.57" y1="1929.50" x2="1353.57" y2="2539.70" stroke-width="1.8" stroke-linecap="butt"/>
<line x1="1201.10" y1="2082.05" x2="1811.00" y2="2082.05" stroke-width="1.8" stroke-linecap="butt"/>
<line x1="1429.81" y1="1929.50" x2="1429.81" y2="2539.70" stroke-width="1.8" stroke-linecap="butt"/>
<line x1="1201.10" y1="2158.32" x2="1811.00" y2="2158.32" stroke-width="1.8" stroke-linecap="butt"/>
<line x1="1506.05" y1="1929.50" x2="1506.05" y2="2539.70" stroke-width="1.8" stroke-linecap="butt"/>
<line x1="1201.10" y1="2234.60" x2="1811.00" y2="2234.60" stroke-width="1.8" stroke-linecap="butt"/>
<line x1="1582.29" y1="1929.50" x2="1582.29" y2="2539.70" stroke-width="1.8" stroke-linecap="butt"/>
<line x1="1201.10" y1="2310.88" x2="1811.00" y2="2310.88" stroke-width="1.8" stroke-linecap="butt"/>
<line x1="1658.53" y1="1929.50" x2="1658.53" y2="2539.70" stroke-width="1.8" stroke-linecap="butt"/>
<line x1="1201.10" y1="2387.15" x2="1811.00" y2="2387.15" stroke-width="1.8" stroke-linecap="butt"/>
<line x1="1734.76" y1="1929.50" x2="1734.76" y2="2539.70" stroke-width="1.8" stroke-linecap="butt"/>
<line x1="1201.10" y1="2463.42" x2="1811.00" y2="2463.42" stroke-width="1.8" stroke-linecap="butt"/>
<rect x="1201.10" y="1929.50" width="609.90" height="610.20" fill="none" stroke-width="1.9"/>
<rect x="1585.60" y="1939.20" width="217.30" height="138.70" fill="#fff" stroke="none"/>
<rect x="1231.80" y="2257.70" width="251.20" height="227.50" fill="#fff" stroke="none"/>
<polyline points="1201.10,1929.00 1429.70,1929.00 1734.80,2539.70" fill="none" stroke-width="4.0" stroke-linejoin="miter" stroke-linecap="butt"/>
<text x="1615.03" y="1973.40" font-size="27.3" text-anchor="start">Single Phase</text>
<text x="1596.20" y="2003.40" font-size="27.3" text-anchor="start">Half-Wave 60Hz</text>
<text x="1623.31" y="2034.10" font-size="27.3" text-anchor="start">Resistive or</text>
<text x="1606.32" y="2064.30" font-size="27.3" text-anchor="start">Inductive Load</text>
<text x="1261.55" y="2289.60" font-size="27.4" text-anchor="start">L = 9.5 mm</text>
<text x="1245.57" y="2464.90" font-size="27.2" text-anchor="start">40 x 40 x 1 mm Cu</text>
<line x1="1246.20" y1="2309.90" x2="1273.40" y2="2309.90" stroke-width="1.3" stroke-linecap="butt"/>
<polygon points="1286.00,2309.90 1268.00,2318.20 1268.00,2309.90 1268.00,2301.60" fill="#1a1617" stroke="none"/>
<line x1="1345.20" y1="2309.90" x2="1320.80" y2="2309.90" stroke-width="1.3" stroke-linecap="butt"/>
<polygon points="1308.20,2309.90 1326.20,2301.60 1326.20,2309.90 1326.20,2318.20" fill="#1a1617" stroke="none"/>
<line x1="1286.40" y1="2292.00" x2="1286.40" y2="2327.00" stroke-width="1.3" stroke-linecap="butt"/>
<line x1="1308.20" y1="2293.80" x2="1308.20" y2="2330.00" stroke-width="1.3" stroke-linecap="butt"/>
<polygon points="1263.80,2349.80 1285.40,2326.20 1285.40,2390.00 1263.80,2414.90" fill="none" stroke-width="2.8" stroke-linejoin="miter"/>
<polygon points="1395.70,2346.90 1417.30,2322.50 1417.90,2389.00 1395.70,2414.00" fill="none" stroke-width="2.8" stroke-linejoin="miter"/>
<line x1="1264.50" y1="2349.50" x2="1285.40" y2="2326.50" stroke-width="4.2" stroke-linecap="round"/>
<line x1="1396.40" y1="2346.60" x2="1417.30" y2="2322.80" stroke-width="4.2" stroke-linecap="round"/>
<rect x="1308.20" y="2357.60" width="62.90" height="25.00" fill="none" stroke-width="2.2"/>
<rect x="1275.80" y="2367.80" width="32.40" height="7.40" fill="none" stroke-width="2.0"/>
<rect x="1371.10" y="2367.80" width="24.60" height="7.40" fill="none" stroke-width="2.0"/>
<line x1="1308.20" y1="2438.60" x2="1282.93" y2="2408.01" stroke-width="1.2" stroke-linecap="butt"/>
<polygon points="1274.90,2398.30 1291.76,2407.72 1286.37,2412.18 1280.97,2416.63" fill="#1a1617" stroke="none"/>
<text x="1142.53" y="1939.60" font-size="27.2" text-anchor="start">1.00</text>
<text x="1143.41" y="2084.50" font-size="27.2" text-anchor="start">0.75</text>
<text x="1143.33" y="2236.90" font-size="27.2" text-anchor="start">0.50</text>
<text x="1143.41" y="2397.10" font-size="27.2" text-anchor="start">0.25</text>
<text x="1172.74" y="2536.60" font-size="27.2" text-anchor="start">0</text>
<text x="1192.54" y="2581.00" font-size="27.2" text-anchor="start">0</text>
<text x="1260.47" y="2581.00" font-size="27.2" text-anchor="start">25</text>
<text x="1337.76" y="2581.00" font-size="27.2" text-anchor="start">50</text>
<text x="1411.05" y="2581.00" font-size="27.2" text-anchor="start">75</text>
<text x="1483.41" y="2581.00" font-size="27.2" text-anchor="start">100</text>
<text x="1560.65" y="2581.00" font-size="27.2" text-anchor="start">125</text>
<text x="1637.41" y="2581.00" font-size="27.2" text-anchor="start">150</text>
<text x="1712.15" y="2581.00" font-size="27.2" text-anchor="start">175</text>
<text x="1790.17" y="2578.80" font-size="27.2" text-anchor="start">200</text>
<text x="1316.91" y="2628.50"><tspan font-size="26.8" y="2628.50">T</tspan><tspan font-size="19.5" y="2636.00">L</tspan><tspan font-size="26.8" y="2628.50"> , LEAD TEMPERATURE (°C)</tspan></text>
<text x="1288.07" y="2657.40" font-size="27.25" text-anchor="start">Fig. 5, Steady State Power Derating</text>
<text transform="translate(1115.10,2514.83) rotate(-90)" x="0" y="0"><tspan font-size="27.2" y="0.00">P</tspan><tspan font-size="19.5" y="8.00">d</tspan><tspan font-size="27.2" y="0.00">, STEADY STATE POWER DISSIPATION (W)</tspan></text>
<g stroke="#000" fill="#000" style="fill:#000">
<line x1="167.20" y1="2732.00" x2="1876.10" y2="2732.00" stroke-width="6.1" stroke-linecap="butt"/>
</g>
<g class="ft">
<text x="167.62" y="2777.40" font-size="27.8" text-anchor="start">SA5.0/A/C/CA – SA170/A/C/CA</text>
<text x="1012.53" y="2777.40" font-size="27.4" text-anchor="start">2  of  5</text>
<text x="1527.18" y="2777.30" font-size="27.85" text-anchor="start">© 2002 Won-Top Electronics</text>
</g>
</svg></body></html>
